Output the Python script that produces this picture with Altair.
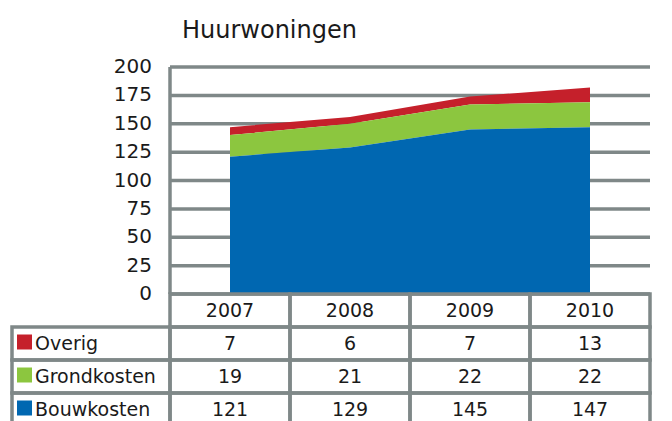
import altair as alt
import pandas as pd

# ---- data ----
years = [2007, 2008, 2009, 2010]
series = ["Overig", "Grondkosten", "Bouwkosten"]
overig = [7, 6, 7, 13]
grondkosten = [19, 21, 22, 22]
bouwkosten = [121, 129, 145, 147]
colors = ["#c5202b", "#8cc63f", "#0067b1"]
y_ticks = [0, 25, 50, 75, 100, 125, 150, 175, 200]
title_text = "Huurwoningen"

# ---- styling ----
FONT = "DejaVu Sans"
GRAY = "#7f8888"
LINE_W = 3.5
TEXT_C = "#1a1a1a"

values = {"Overig": overig, "Grondkosten": grondkosten, "Bouwkosten": bouwkosten}
stack_order = {"Bouwkosten": 0, "Grondkosten": 1, "Overig": 2}
header_key = "header"
rows = [header_key] + series

long = pd.DataFrame(
    [{"year": y, "series": s, "value": v, "ord": stack_order[s]}
     for s in series for y, v in zip(years, values[s])]
)

x_left = years[0] - 0.5          # left edge of plot (column boundary)
x_right = years[-1] + 0.5
x_min = x_left - 158 / 120       # left edge of label column
xscale = alt.Scale(domain=[x_min, x_right], nice=False, zero=False)
yscale = alt.Scale(domain=[0, 200], range=[227, 0], nice=False)
rowscale = alt.Scale(type="band", domain=rows, range=[227, 359], paddingInner=0, paddingOuter=0)
cscale = alt.Scale(domain=series, range=colors)

grid_df = pd.DataFrame({"tick": y_ticks, "x0": x_left, "x1": x_right})
vline_df = pd.DataFrame({"x": [x_left], "y0": [0], "y1": [200]})

grid = alt.Chart(grid_df).mark_rule(stroke=GRAY, strokeWidth=LINE_W).encode(
    x=alt.X("x0:Q", scale=xscale, axis=None),
    x2="x1:Q",
    y=alt.Y("tick:Q", scale=yscale, axis=None),
)
vline = alt.Chart(vline_df).mark_rule(stroke=GRAY, strokeWidth=LINE_W).encode(
    x=alt.X("x:Q", scale=xscale, axis=None),
    y=alt.Y("y0:Q", scale=yscale, axis=None),
    y2="y1:Q",
)
area = alt.Chart(long).mark_area(opacity=1).encode(
    x=alt.X("year:Q", scale=xscale, axis=None),
    y=alt.Y("value:Q", stack="zero", scale=yscale, axis=None),
    color=alt.Color("series:N", scale=cscale, legend=None),
    order=alt.Order("ord:Q", sort="ascending"),
)
ylabels = alt.Chart(grid_df).mark_text(
    align="right", baseline="middle", dx=-18, font=FONT, fontSize=20, color=TEXT_C
).encode(
    x=alt.X("x0:Q", scale=xscale, axis=None),
    y=alt.Y("tick:Q", scale=yscale, axis=None),
    text="tick:Q",
)
title = alt.Chart(pd.DataFrame({"t": [title_text]})).mark_text(
    align="left", baseline="alphabetic", font=FONT, fontSize=24, color=TEXT_C
).encode(x=alt.value(170), y=alt.value(-29), text="t:N")

# ---- table ----
cells = []
for r in rows:
    for y in years:
        cells.append({"row": r, "x0": y - 0.5, "x1": y + 0.5})
    if r != header_key:
        cells.append({"row": r, "x0": x_min, "x1": x_left})
cells_df = pd.DataFrame(cells)

table_text = [{"row": header_key, "year": y, "label": str(y)} for y in years]
for s in series:
    for y, v in zip(years, values[s]):
        table_text.append({"row": s, "year": y, "label": str(v)})
table_text_df = pd.DataFrame(table_text)
row_lab_df = pd.DataFrame({"row": series, "series": series, "x": x_min})

cell_rects = alt.Chart(cells_df).mark_rect(filled=False, stroke=GRAY, strokeWidth=LINE_W).encode(
    x=alt.X("x0:Q", scale=xscale, axis=None),
    x2="x1:Q",
    y=alt.Y("row:N", scale=rowscale, axis=None),
)
cell_text = alt.Chart(table_text_df).mark_text(
    align="center", baseline="middle", font=FONT, fontSize=19, color=TEXT_C
).encode(
    x=alt.X("year:Q", scale=xscale, axis=None),
    y=alt.Y("row:N", scale=rowscale, axis=None, bandPosition=0.5),
    text="label:N",
)
row_labels = alt.Chart(row_lab_df).mark_text(
    align="left", baseline="middle", dx=23, font=FONT, fontSize=19, color=TEXT_C
).encode(
    x=alt.X("x:Q", scale=xscale, axis=None),
    y=alt.Y("row:N", scale=rowscale, axis=None, bandPosition=0.5),
    text="series:N",
)
squares = alt.Chart(row_lab_df).mark_square(size=225, opacity=1, filled=True, xOffset=12.5, yOffset=-1.5).encode(
    x=alt.X("x:Q", scale=xscale, axis=None),
    y=alt.Y("row:N", scale=rowscale, axis=None, bandPosition=0.5),
    color=alt.Color("series:N", scale=cscale, legend=None),
)

top = alt.layer(grid, area, vline, ylabels, title)
bottom = alt.layer(cell_rects, cell_text, row_labels, squares)

chart = (
    alt.layer(top, bottom)
    .resolve_scale(y="independent")
    .properties(
        width=638,
        height=354,
        padding={"left": 4, "top": 59, "right": 14, "bottom": 0},
        autosize=alt.AutoSizeParams(type="none"),
        background="white",
    )
    .configure_view(strokeWidth=0)
)

chart.save("out.html", embed_options={"renderer": "svg", "actions": False})
